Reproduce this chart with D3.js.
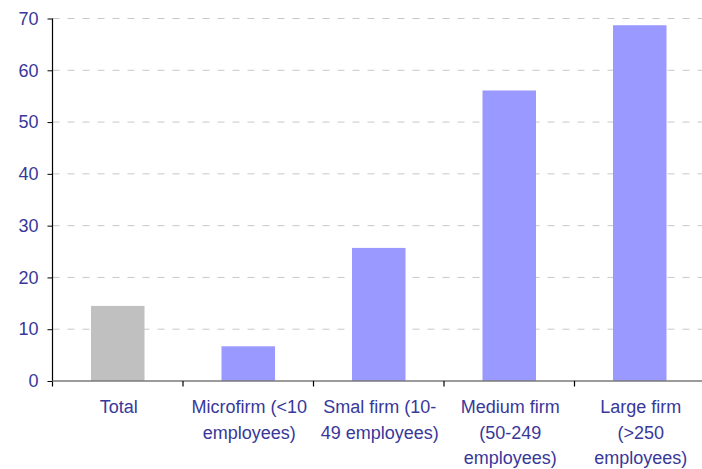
<!DOCTYPE html>
<html>
<head>
<meta charset="utf-8">
<script src="https://cdn.jsdelivr.net/npm/d3@7"></script>
<style>
  html, body { margin: 0; padding: 0; background: #fff; }
  svg { display: block; }
</style>
</head>
<body>
<svg id="chart" width="702" height="469"></svg>
<script>
// Firm-size categories (line breaks mark label wrapping)
const categories = [
  "Total",
  "Microfirm (<10\nemployees)",
  "Smal firm (10-\n49 employees)",
  "Medium firm\n(50-249\nemployees)",
  "Large firm\n(>250\nemployees)"
];
const values = [14.5, 6.7, 25.7, 56.1, 68.7];
const yTicks = [0, 10, 20, 30, 40, 50, 60, 70];

const svg = d3.select("#chart");
const plotLeft = 52.5, plotRight = 705, plotTop = 18.5, plotBottom = 381;
const textColor = "#38389a";

const x = d3.scaleBand()
  .domain(categories)
  .range([plotLeft, plotRight])
  .paddingInner(0.59)
  .paddingOuter(0.295);

const y = d3.scaleLinear().domain([0, 70]).range([plotBottom, plotTop]);

// dashed gridlines
svg.append("g")
  .selectAll("line")
  .data(yTicks.filter(d => d > 0))
  .join("line")
  .attr("x1", plotLeft).attr("x2", 702)
  .attr("y1", d => y(d)).attr("y2", d => y(d))
  .attr("stroke", "#c8c8c8")
  .attr("stroke-width", 1)
  .attr("stroke-dasharray", "7,8");

// bars
svg.append("g")
  .selectAll("rect")
  .data(values)
  .join("rect")
  .attr("x", (d, i) => x(categories[i]))
  .attr("width", x.bandwidth())
  .attr("y", d => y(d))
  .attr("height", d => y(0) - y(d))
  .attr("fill", (d, i) => i === 0 ? "#c0c0c0" : "#9999ff");

// y axis
const yAxis = svg.append("g")
  .attr("transform", `translate(${plotLeft},0)`)
  .call(d3.axisLeft(y).tickValues(yTicks).tickSize(5).tickPadding(9));
yAxis.select(".domain").remove();
yAxis.selectAll(".tick line").attr("stroke", "#000");
yAxis.selectAll("text")
  .attr("fill", textColor)
  .style("font-family", "'Liberation Sans', Arial, sans-serif")
  .style("font-size", "18px");
svg.append("line")
  .attr("x1", plotLeft).attr("x2", plotLeft)
  .attr("y1", y(70)).attr("y2", plotBottom + 5.5)
  .attr("stroke", "#000").attr("stroke-width", 1.2);

// x axis baseline and category separators
svg.append("line")
  .attr("x1", plotLeft).attr("x2", 702)
  .attr("y1", plotBottom).attr("y2", plotBottom)
  .attr("stroke", "#7a7a7a").attr("stroke-width", 1.6);
svg.append("g")
  .selectAll("line")
  .data(categories.slice(1))
  .join("line")
  .attr("x1", d => x(d) - x.step() * x.paddingOuter())
  .attr("x2", d => x(d) - x.step() * x.paddingOuter())
  .attr("y1", plotBottom).attr("y2", plotBottom + 5.5)
  .attr("stroke", "#000").attr("stroke-width", 1.2);

// category labels
const labels = svg.append("g")
  .selectAll("text")
  .data(categories)
  .join("text")
  .attr("x", d => x(d) + x.bandwidth() / 2 + 1)
  .attr("y", 413)
  .attr("text-anchor", "middle")
  .attr("fill", textColor)
  .style("font-family", "'Liberation Sans', Arial, sans-serif")
  .style("font-size", "18px");
labels.selectAll("tspan")
  .data(d => d.split("\n"))
  .join("tspan")
  .attr("x", function () { return this.parentNode.getAttribute("x"); })
  .attr("dy", (d, i) => i === 0 ? 0 : 25.5)
  .text(d => d);
</script>
</body>
</html>
